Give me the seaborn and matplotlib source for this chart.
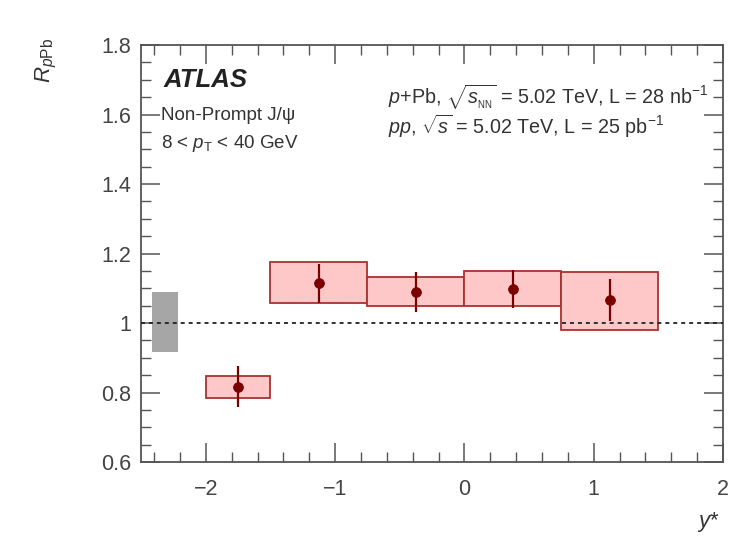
import matplotlib
matplotlib.use("Agg")
import matplotlib.pyplot as plt
from matplotlib.patches import Rectangle
from matplotlib.ticker import MultipleLocator
import numpy as np
import pandas as pd
import seaborn as sns

# Rapidity bins (y*) and measured nuclear modification factor
bin_lo = [-2.0, -1.5, -0.75, 0.0, 0.75]
bin_hi = [-1.5, -0.75, 0.0, 0.75, 1.5]
r_ppb = [0.816, 1.115, 1.089, 1.098, 1.066]
stat_err = [0.059, 0.056, 0.058, 0.055, 0.060]
syst_lo = [0.784, 1.058, 1.049, 1.049, 0.980]
syst_hi = [0.847, 1.176, 1.132, 1.150, 1.147]

# Global normalisation uncertainty band
norm_lo = 0.917
norm_hi = 1.089

df = pd.DataFrame({
    "lo": bin_lo, "hi": bin_hi, "r": r_ppb, "stat": stat_err,
    "slo": syst_lo, "shi": syst_hi,
})
df["y"] = (df["lo"] + df["hi"]) / 2

sns.set_style("ticks")
plt.rcParams["font.family"] = ["Liberation Sans", "DejaVu Sans"]
plt.rcParams["mathtext.fontset"] = "custom"
plt.rcParams["mathtext.rm"] = "Liberation Sans"
plt.rcParams["mathtext.it"] = "Liberation Sans:italic"
plt.rcParams["mathtext.bf"] = "Liberation Sans:bold"

fig = plt.figure(figsize=(7.43, 5.36), dpi=100)
ax = fig.add_axes([0.19, 0.138, 0.783, 0.778])

# systematic boxes
for _, row in df.iterrows():
    ax.add_patch(Rectangle((row["lo"], row["slo"]), row["hi"] - row["lo"],
                           row["shi"] - row["slo"], facecolor="#ffc8c8",
                           edgecolor="#a83232", linewidth=1.3, zorder=2))

# normalisation box
ax.add_patch(Rectangle((-2.415, norm_lo), 0.2, norm_hi - norm_lo,
                       facecolor="#a6a6a6", edgecolor="none", zorder=2))

ax.axhline(1.0, color="#222222", linestyle=(0, (2.2, 2.2)), linewidth=1.3,
           zorder=3)

ax.errorbar(df["y"], df["r"], yerr=df["stat"], fmt="none",
            ecolor="#7a0000", elinewidth=1.6, zorder=4)
sns.scatterplot(data=df, x="y", y="r", ax=ax, color="#7a0000", s=50,
                edgecolor="#7a0000", zorder=5, legend=False)

ax.set_xlim(-2.5, 2.0)
ax.set_ylim(0.6, 1.8)
ax.xaxis.set_major_locator(MultipleLocator(1))
ax.xaxis.set_minor_locator(MultipleLocator(0.2))
ax.yaxis.set_major_locator(MultipleLocator(0.2))
ax.yaxis.set_minor_locator(MultipleLocator(0.05))
ax.set_xticks([-2, -1, 0, 1, 2])
ax.set_xticklabels(["\u22122", "\u22121", "0", "1", "2"])
ax.set_yticks([0.6, 0.8, 1.0, 1.2, 1.4, 1.6, 1.8])
ax.set_yticklabels(["0.6", "0.8", "1", "1.2", "1.4", "1.6", "1.8"])
ax.tick_params(which="both", direction="in", top=True, right=True,
               color="#555555", labelsize=15.5, labelcolor="#444444")
ax.tick_params(which="major", length=14, width=1.1)
ax.tick_params(axis="x", which="major", pad=12)
ax.tick_params(axis="y", which="major", pad=7)
ax.tick_params(which="minor", length=7, width=1.0)
for s in ax.spines.values():
    s.set_color("#555555")
    s.set_linewidth(1.3)

ax.set_xlabel("")
ax.set_ylabel("")
fig.text(0.968, 0.016, r"$y$*", fontsize=16, color="#333333", ha="right")
fig.text(0.062, 0.93, r"$R_{p\mathrm{Pb}}$", fontsize=16, color="#333333",
         rotation=90, ha="center", va="top")

ax.text(0.038, 0.916, "ATLAS", transform=ax.transAxes, fontsize=18.5,
        fontweight="bold", fontstyle="italic", color="#222222", va="center")
ax.text(0.034, 0.832, "Non-Prompt J/\u03c8", transform=ax.transAxes,
        fontsize=13.5, color="#333333", va="center")
ax.text(0.034, 0.765, r"8 < $p_{\mathrm{T}}$ < 40 GeV", transform=ax.transAxes,
        fontsize=13.5, color="#333333", va="center")
ax.text(0.424, 0.875,
        r"$p$+Pb, $\sqrt{s_{_\mathrm{NN}}}$ = 5.02 TeV, L = 28 nb$^{-1}$",
        transform=ax.transAxes, fontsize=14.2, color="#333333",
        ha="left", va="center")
ax.text(0.424, 0.806, r"$pp$, $\sqrt{s}$ = 5.02 TeV, L = 25 pb$^{-1}$",
        transform=ax.transAxes, fontsize=14.2, color="#333333",
        ha="left", va="center")

fig.savefig("out.png", dpi=100)
